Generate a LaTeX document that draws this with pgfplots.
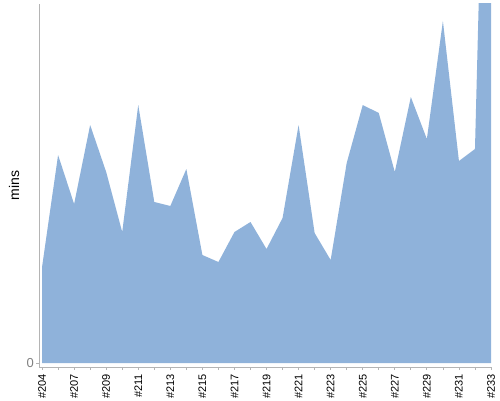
\documentclass[border=0pt]{standalone}
\usepackage{pgfplots}
\pgfplotsset{compat=1.18}
\usepackage{fontspec}
\setmainfont{Liberation Sans}
\definecolor{areafill}{RGB}{143,178,218}
\definecolor{axisgray}{RGB}{180,180,180}

\begin{document}
\begin{tikzpicture}[x=1pt,y=1pt]
\useasboundingbox (0,0) rectangle (500,400);
\begin{axis}[
    at={(39pt,33pt)}, anchor=south west,
    scale only axis,
    width=452pt, height=363pt,
    xmin=-0.19, xmax=28,
    ymin=-4, ymax=359,
    axis x line*=bottom,
    axis y line*=left,
    axis line style={draw=axisgray, line width=0.8pt},
    xtick={0,...,28},
    xticklabels={\#204,,\#207,,\#209,,\#211,,\#213,,\#215,,\#217,,\#219,,\#221,,\#223,,\#225,,\#227,,\#229,,\#231,,\#233},
    x tick label style={rotate=90, anchor=east, font=\fontsize{11}{11}\selectfont, inner sep=0pt, xshift=-4pt},
    ytick={0},
    /pgf/number format/assume math mode=true,
    y tick label style={font=\fontsize{13}{13}\selectfont, text=gray, inner sep=2pt},
    tick style={draw=axisgray, line width=0.8pt},
    tick align=outside,
    major tick length=3pt,
    every axis y label/.style={at={(-25pt,0.5)}, rotate=90, anchor=center, font=\fontsize{14}{14}\selectfont},
    ylabel={mins},
    clip=true,
]
\addplot[fill=areafill, draw=none] coordinates {
(0,96) (1,208) (2,159) (3,238) (4,191) (5,131) (6,258) (7,161) (8,157) (9,194)
(10,108) (11,101) (12,131) (13,141) (14,114) (15,145) (16,238) (17,130) (18,103) (19,200)
(20,258) (21,250) (22,191) (23,266) (24,224) (25,342) (26,202) (27,214) (28,841)
} \closedcycle;
\end{axis}
\end{tikzpicture}
\end{document}
